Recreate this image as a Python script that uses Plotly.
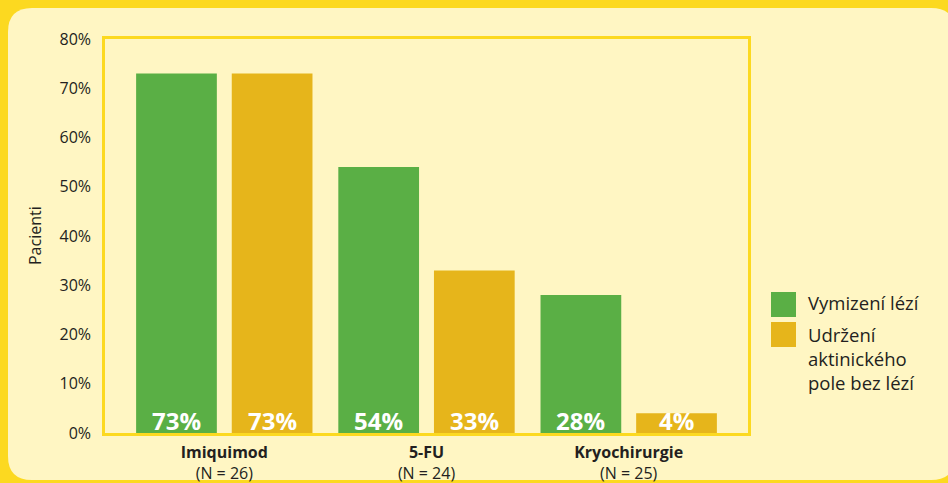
import plotly.graph_objects as go

# ---- data ----
categories = ["Imiquimod", "5-FU", "Kryochirurgie"]
n_patients = [26, 24, 25]
clearance = [73, 54, 28]      # Vymizení lézí
sustained = [73, 33, 4]       # Udržení aktinického pole bez lézí
series_names = ["Vymizení lézí", "Udržení<br>aktinického<br>pole bez lézí"]
y_tick_values = [0, 10, 20, 30, 40, 50, 60, 70, 80]
y_title = "Pacienti"

# ---- style ----
GREEN = "#5AAF45"
GOLD = "#E6B51B"
CREAM = "#FFF6C3"
YELLOW = "#FCD920"
TEXT = "#231F20"
FONT = "Open Sans"

W, H = 948, 483
ML, MR, MT, MB = 105, 200, 39, 50
PW, PH = W - ML - MR, H - MT - MB


def px(x):
    return (x - ML) / PW


def py(y):
    return (H - MB - y) / PH


fig = go.Figure()
fig.add_trace(go.Bar(x=categories, y=clearance, name=series_names[0],
                     marker=dict(color=GREEN, line=dict(width=0)), showlegend=False))
fig.add_trace(go.Bar(x=categories, y=sustained, name=series_names[1],
                     marker=dict(color=GOLD, line=dict(width=0)), showlegend=False))

# bar value labels at bar base
annotations = []
for series, shift in ((clearance, -48), (sustained, 48)):
    for c, v in zip(categories, series):
        annotations.append(dict(x=c, y=0, xref="x", yref="y", xshift=shift, yshift=-6,
                                text=f"{v}%", showarrow=False, yanchor="bottom",
                                font=dict(family=FONT, size=24, color="white", weight="bold")))

shapes = []
r = 24
L, R, T, B = 8, 955, 8, 480
path = (f"M {px(L + r)},{py(T)} L {px(R - r)},{py(T)} Q {px(R)},{py(T)} {px(R)},{py(T + r)} "
        f"L {px(R)},{py(B - r)} Q {px(R)},{py(B)} {px(R - r)},{py(B)} "
        f"L {px(L + r)},{py(B)} Q {px(L)},{py(B)} {px(L)},{py(B - r)} "
        f"L {px(L)},{py(T + r)} Q {px(L)},{py(T)} {px(L + r)},{py(T)} Z")
shapes.append(dict(type="path", path=path, xref="paper", yref="paper",
                   fillcolor=CREAM, line=dict(width=0), layer="below"))

# legend (manual, large squares)
legend_colors = [GREEN, GOLD]
legend_tops = [292, 322]
for col, top in zip(legend_colors, legend_tops):
    shapes.append(dict(type="rect", xref="paper", yref="paper",
                       x0=px(771), x1=px(796), y0=py(top), y1=py(top + 25),
                       fillcolor=col, line=dict(width=0)))
annotations.append(dict(x=px(806), y=py(302), xref="paper", yref="paper", xanchor="left",
                        yanchor="middle", text=series_names[0], showarrow=False, align="left",
                        font=dict(family=FONT, size=18.5, color=TEXT)))
annotations.append(dict(x=px(806), y=py(320), xref="paper", yref="paper", xanchor="left",
                        yanchor="top", text=series_names[1], showarrow=False, align="left",
                        font=dict(family=FONT, size=18.5, color=TEXT)))

# y title
annotations.append(dict(x=px(35), y=py(236), xref="paper", yref="paper", text=y_title,
                        textangle=-90, showarrow=False, xanchor="center", yanchor="middle",
                        font=dict(family=FONT, size=16, color=TEXT)))

fig.update_layout(
    width=W, height=H,
    margin=dict(l=ML, r=MR, t=MT, b=MB, pad=0, autoexpand=False),
    paper_bgcolor=YELLOW, plot_bgcolor=CREAM,
    barmode="group", bargap=0.054, bargroupgap=0.156,
    font=dict(family=FONT, color=TEXT),
    shapes=shapes, annotations=annotations,
    showlegend=False,
)
fig.update_xaxes(
    range=[-0.59, 2.59], showgrid=False, zeroline=False, automargin=False,
    showline=True, mirror=True, linecolor=YELLOW, linewidth=2.5,
    tickmode="array", tickvals=categories,
    ticktext=[f"<b>{c}</b><br>(N = {n})" for c, n in zip(categories, n_patients)],
    tickfont=dict(family=FONT, size=16, color=TEXT), ticks="", ticklabelstandoff=3,
)
fig.update_yaxes(
    range=[0, 80], showgrid=False, zeroline=False, automargin=False,
    showline=True, mirror=True, linecolor=YELLOW, linewidth=2.5,
    tickmode="array", tickvals=y_tick_values,
    ticktext=[f"{v}%" for v in y_tick_values],
    tickfont=dict(family=FONT, size=16, color=TEXT), ticks="", ticklabelstandoff=8,
)

fig.write_html("out.html", config={"displayModeBar": False},
               post_script="document.body.style.margin='0';document.body.style.overflow='hidden';")
